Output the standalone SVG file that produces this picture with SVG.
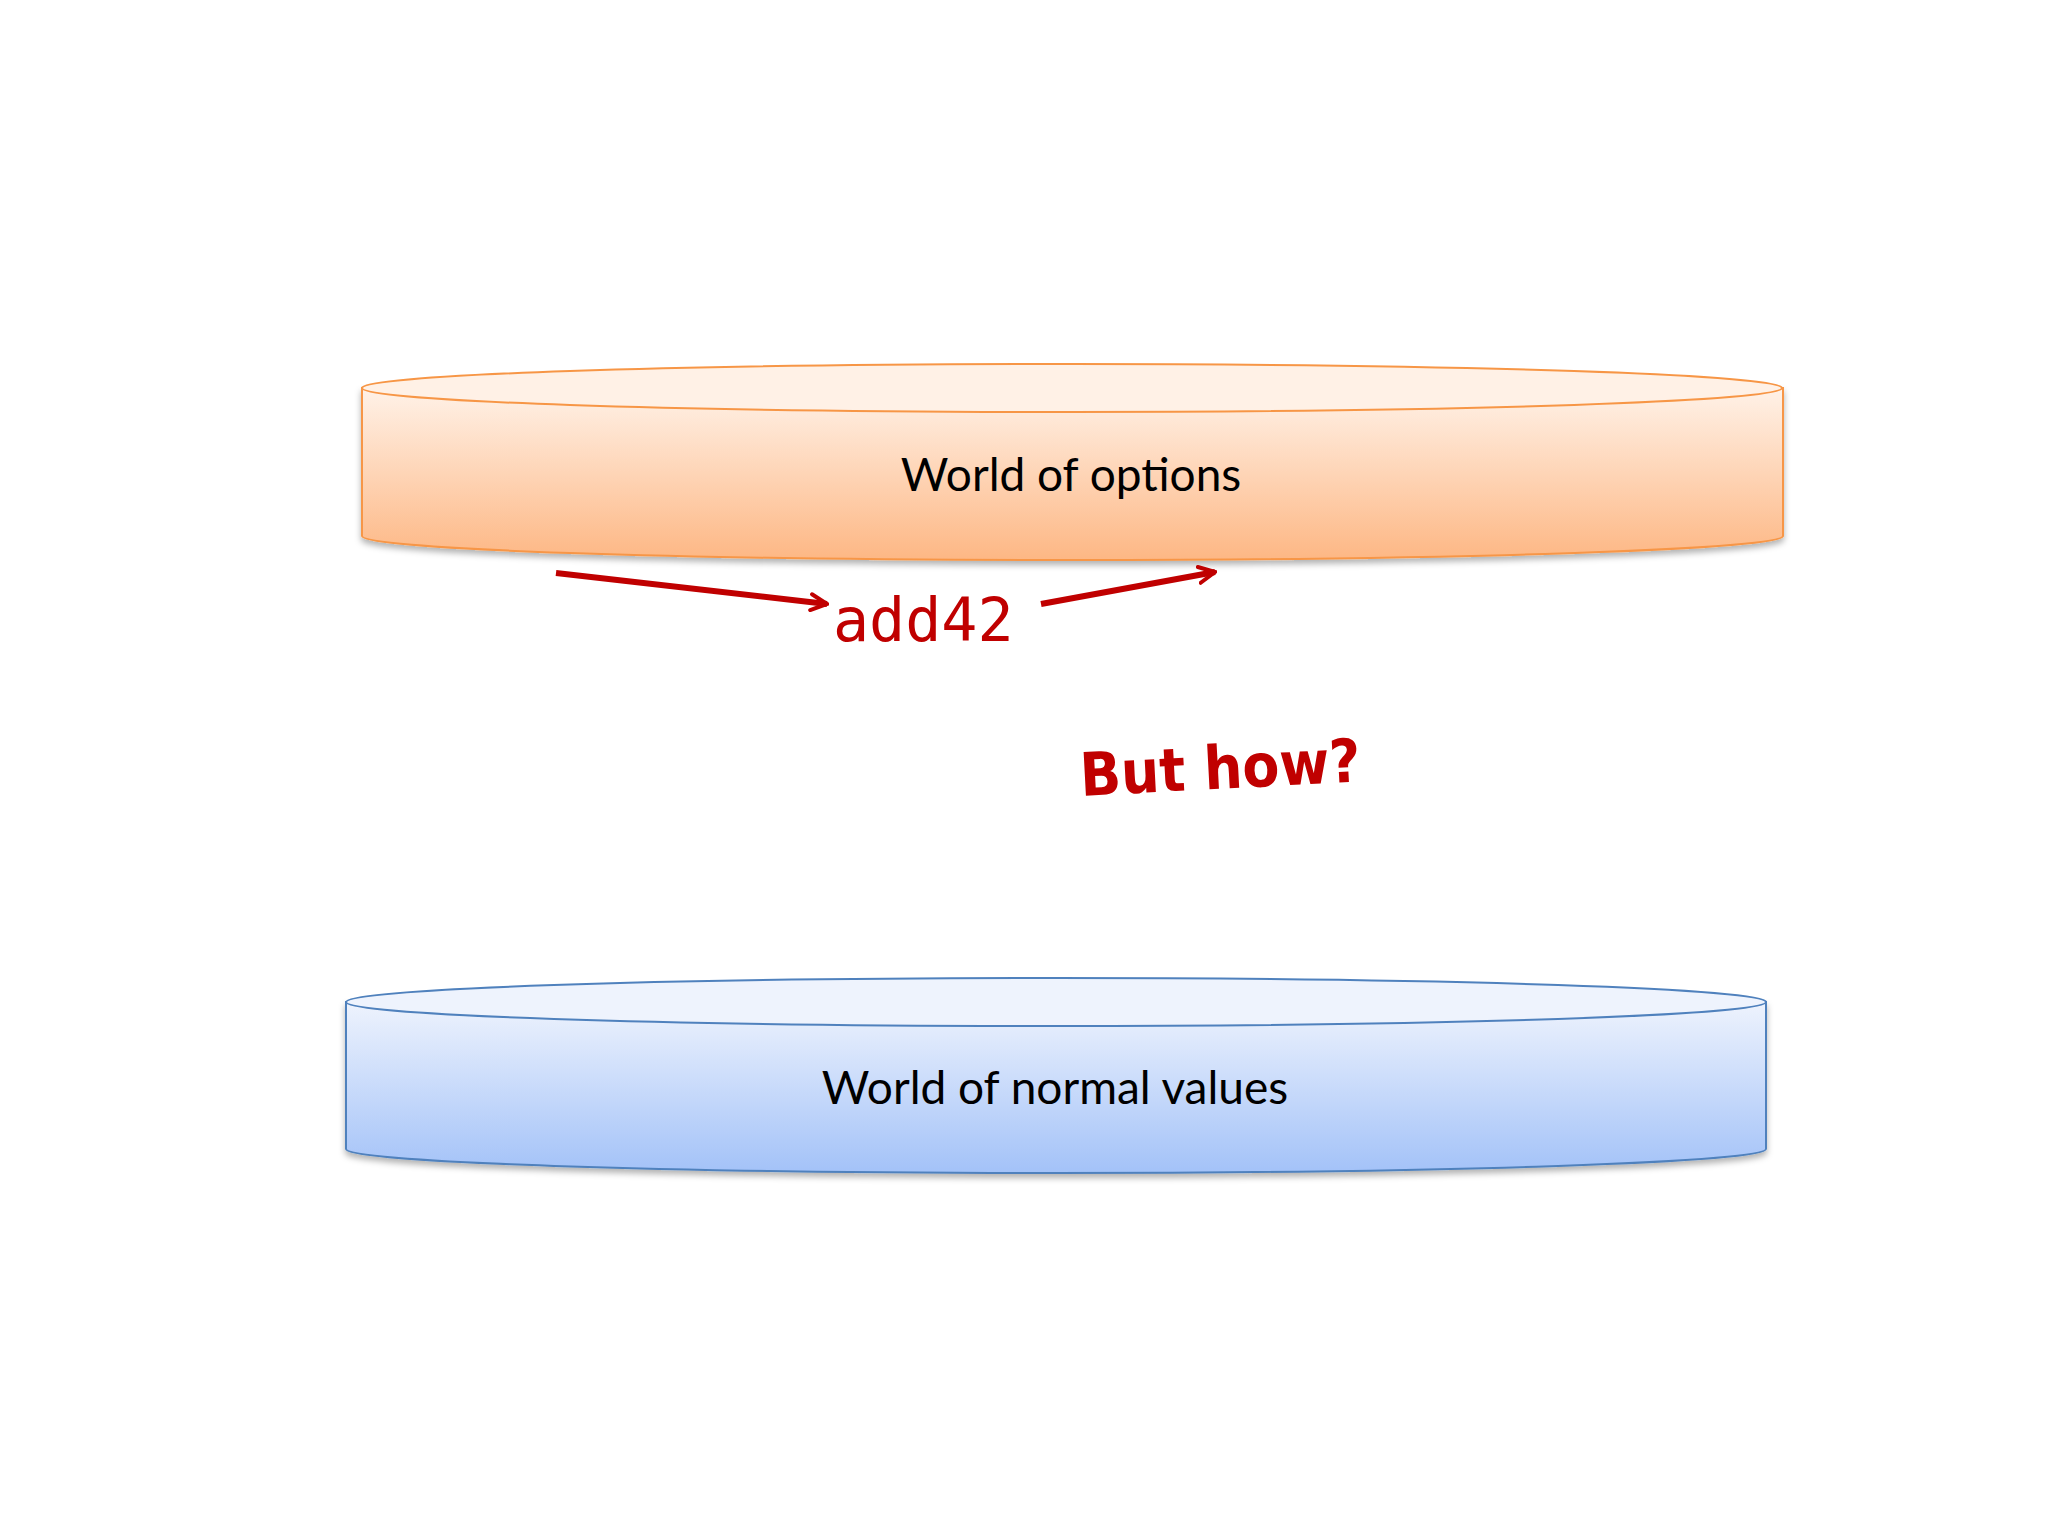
<svg xmlns="http://www.w3.org/2000/svg" width="2048" height="1536" viewBox="0 0 2048 1536">
<defs>
<linearGradient id="og" x1="0" y1="0" x2="0" y2="1"><stop offset="0" stop-color="#fff2e8"/><stop offset="1" stop-color="#fdb784"/></linearGradient>
<linearGradient id="bg" x1="0" y1="0" x2="0" y2="1"><stop offset="0" stop-color="#eef3fd"/><stop offset="1" stop-color="#a3c2f8"/></linearGradient>
<marker id="ah" viewBox="0 0 20 20" refX="18" refY="10" markerWidth="20" markerHeight="20" markerUnits="userSpaceOnUse" orient="auto"><path d="M2,2 L18,10 L2,18" fill="none" stroke="#c00000" stroke-width="4" stroke-linecap="round"/></marker>
<filter id="sh"><feDropShadow dx="0" dy="4" stdDeviation="3" flood-opacity="0.3"/></filter>
</defs>
<style>
.lbl{font-family:"Lato","Liberation Sans",sans-serif;font-size:46px;fill:#000;text-anchor:middle}
.arr{stroke:#c00000;stroke-width:6;fill:none;marker-end:url(#ah)}
</style>
<rect width="2048" height="1536" fill="#fff"/>
<g id="options">
<path d="M362,388 L362,536 A710,24 0 0 0 1783,536 L1783,388 Z" fill="url(#og)" stroke="#f79646" stroke-width="2" filter="url(#sh)"/>
<ellipse cx="1072" cy="388" rx="710" ry="24" fill="#fff1e6" stroke="#f79646" stroke-width="2"/>
<text class="lbl" x="1071" y="491">World of options</text>
</g>
<g id="normal">
<path d="M346,1002 L346,1149 A710,24 0 0 0 1766,1149 L1766,1002 Z" fill="url(#bg)" stroke="#4f81bd" stroke-width="2" filter="url(#sh)"/>
<ellipse cx="1056" cy="1002" rx="710" ry="24" fill="#eef3fd" stroke="#4f81bd" stroke-width="2"/>
<text class="lbl" x="1055" y="1104">World of normal values</text>
</g>
<g id="connectors">
<line class="arr" x1="556" y1="573" x2="827" y2="604"/>
<line class="arr" x1="1041" y1="604" x2="1215" y2="572"/>
</g>
<text x="833" y="641" font-family="'DejaVu Sans Mono','Liberation Mono',monospace" font-size="60" fill="#c00000">add42</text>
<text x="1081" y="796" font-family="'DejaVu Sans Condensed','DejaVu Sans',sans-serif" font-weight="bold" font-size="60" fill="#c00000" transform="rotate(-3 1081 796)">But how?</text>
</svg>
